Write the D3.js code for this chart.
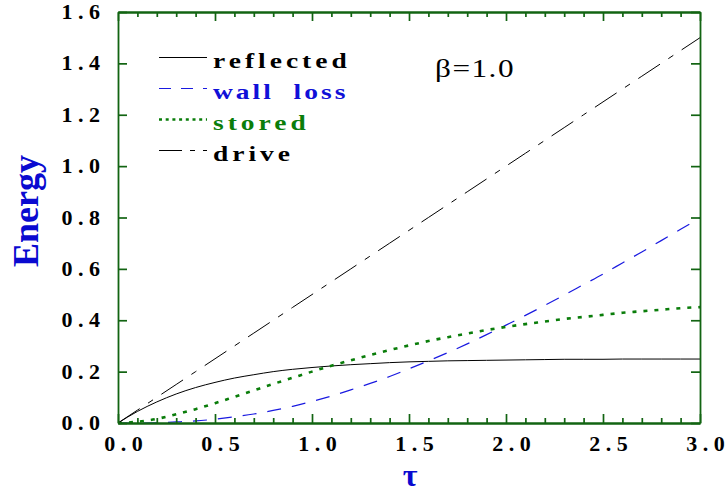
<!DOCTYPE html>
<html><head><meta charset="utf-8">
<script src="https://cdn.jsdelivr.net/npm/d3@7/dist/d3.min.js"></script>
<style>body{margin:0;background:#fff}svg{display:block}</style>
</head><body>
<svg id="c" width="727" height="493"></svg>
<script>
// ---- data ----
const tau       = [0,0.1,0.2,0.3,0.4,0.5,0.6,0.7,0.8,0.9,1.0,1.1,1.2,1.3,1.4,1.5,1.6,1.7,1.8,1.9,2.0,2.1,2.2,2.3,2.4,2.5,2.6,2.7,2.8,2.9,3.0];
const reflected = [0,0.045,0.082,0.113,0.138,0.158,0.175,0.188,0.200,0.209,0.216,0.222,0.227,0.231,0.235,0.238,0.240,0.242,0.243,0.244,0.245,0.246,0.247,0.248,0.248,0.248,0.249,0.249,0.249,0.249,0.249];
const wallLoss  = [0,0.000,0.001,0.004,0.008,0.015,0.024,0.035,0.049,0.065,0.084,0.105,0.129,0.154,0.181,0.211,0.242,0.274,0.308,0.344,0.381,0.419,0.458,0.498,0.539,0.580,0.623,0.666,0.710,0.754,0.799];
const stored    = [0,0.005,0.016,0.034,0.054,0.077,0.102,0.127,0.152,0.176,0.200,0.223,0.244,0.265,0.284,0.302,0.319,0.334,0.348,0.362,0.374,0.385,0.395,0.405,0.413,0.421,0.429,0.435,0.441,0.447,0.451];
const drive     = [0,0.05,0.10,0.15,0.20,0.25,0.30,0.35,0.40,0.45,0.50,0.55,0.60,0.65,0.70,0.75,0.80,0.85,0.90,0.95,1.00,1.05,1.10,1.15,1.20,1.25,1.30,1.35,1.40,1.45,1.50];
const xMajor = [0,0.5,1.0,1.5,2.0,2.5,3.0];
const xMinor = [0.1,0.2,0.3,0.4,0.6,0.7,0.8,0.9,1.1,1.2,1.3,1.4,1.6,1.7,1.8,1.9,2.1,2.2,2.3,2.4,2.6,2.7,2.8,2.9];
const yMajor = [0,0.2,0.4,0.6,0.8,1.0,1.2,1.4,1.6];
const legendLabels = ["reflected","wall\u00a0\u00a0loss","stored","drive"];
const annotation = "\u03b2=1.0";
const xTitle = "\u03c4", yTitle = "Energy";

// ---- styles ----
const FRAME = "#126412", BLUE = "#1a1ae0", GREEN = "#0a7d0a";
const serif = "'Liberation Serif','Times New Roman',Times,serif";
const seriesStyle = [
  {vals: reflected, color:"#000", width:1,   dash:null,         ldash:null,        tcolor:"#000",    ls:3.2},
  {vals: wallLoss,  color:BLUE,   width:1.2, dash:"14,11",      ldash:"12,10",     tcolor:"#1010d8", ls:2.4},
  {vals: stored,    color:GREEN,  width:2.6, dash:"4,7",        ldash:"3,3.7",     tcolor:GREEN,     ls:3.2},
  {vals: drive,     color:"#000", width:1,   dash:"26,10,6,10", ldash:"23,8,5,8",  tcolor:"#000",    ls:3.2}
];

const svg = d3.select("#c");
const L = 118, R = 700, T = 12, B = 423;
const x = d3.scaleLinear().domain([0,3]).range([L,R]);
const y = d3.scaleLinear().domain([0,1.6]).range([B,T]);

// ---- curves ----
const line = d3.line().curve(d3.curveMonotoneX);
seriesStyle.forEach(s => {
  svg.append("path")
    .attr("d", line(tau.map((t,i)=>[x(t), y(s.vals[i])])))
    .attr("fill","none").attr("stroke", s.color).attr("stroke-width", s.width)
    .attr("stroke-dasharray", s.dash);
});

// ---- axes ----
function styleAxis(g){
  g.selectAll("line").attr("stroke",FRAME).attr("stroke-width",1.7);
  g.select(".domain").attr("stroke",FRAME).attr("stroke-width",1.8);
}
svg.append("g").attr("transform",`translate(0,${B})`)
  .call(d3.axisBottom(x).tickValues(xMinor).tickSize(-5).tickSizeOuter(0).tickFormat("")).call(styleAxis);
svg.append("g").attr("transform",`translate(0,${T})`)
  .call(d3.axisTop(x).tickValues(xMinor).tickSize(-5).tickSizeOuter(0).tickFormat("")).call(styleAxis);
svg.append("g").attr("transform",`translate(0,${T})`)
  .call(d3.axisTop(x).tickValues(xMajor).tickSize(-9).tickSizeOuter(0).tickFormat("")).call(styleAxis);
svg.append("g").attr("transform",`translate(${R},0)`)
  .call(d3.axisRight(y).tickValues(yMajor).tickSize(-9).tickSizeOuter(0).tickFormat("")).call(styleAxis);

// tick labels are printed with spaced-out characters, e.g. "1 . 4"
const fmt = d => d3.format(".1f")(d).split("").join(" ");
const gx = svg.append("g").attr("transform",`translate(0,${B})`)
  .call(d3.axisBottom(x).tickValues(xMajor).tickSize(-9).tickSizeOuter(0).tickFormat(fmt)).call(styleAxis);
gx.selectAll("text").attr("x",null).attr("y",null).attr("dy",null)
  .attr("transform","translate(5,28) scale(1.1,1)")
  .attr("fill","#000").style("font-family",serif).attr("font-weight","bold")
  .attr("font-size",20).attr("text-anchor","middle");

const gy = svg.append("g").attr("transform",`translate(${L},0)`)
  .call(d3.axisLeft(y).tickValues(yMajor).tickSize(-9).tickSizeOuter(0).tickFormat(fmt)).call(styleAxis);
gy.selectAll("text").attr("x",null).attr("y",null).attr("dy",null)
  .attr("transform","translate(-18,6.5) scale(1.1,1)")
  .attr("fill","#000").style("font-family",serif).attr("font-weight","bold")
  .attr("font-size",20).attr("text-anchor","end");

// ---- axis titles ----
svg.append("text").attr("transform","translate(38,211) rotate(-90)")
  .attr("text-anchor","middle").style("font-family",serif).attr("font-weight","bold")
  .attr("font-size",36).attr("fill","#0a0ad0").text(yTitle);
svg.append("text").attr("x",410).attr("y",486)
  .attr("text-anchor","middle").style("font-family",serif).attr("font-weight","bold")
  .attr("font-size",32).attr("fill","#0a0ad0").text(xTitle);

// ---- legend ----
seriesStyle.forEach((s,i) => {
  const ly = 57.5 + 31*i;
  svg.append("line").attr("x1",159).attr("x2",207).attr("y1",ly).attr("y2",ly)
    .attr("stroke",s.color).attr("stroke-width", i===2 ? 2.4 : 1.2)
    .attr("stroke-dasharray", s.ldash);
  svg.append("text").attr("transform",`translate(213,${ly+10}) scale(1.25,1)`)
    .style("font-family",serif).attr("font-weight","bold").attr("font-size",22)
    .attr("letter-spacing",s.ls).attr("fill",s.tcolor).text(legendLabels[i]);
});

// ---- annotation ----
svg.append("text").attr("transform","translate(435,76.5) scale(1.25,1)")
  .style("font-family",serif).attr("font-size",25).attr("letter-spacing",1.2)
  .attr("fill","#000").text(annotation);
</script>
</body></html>
